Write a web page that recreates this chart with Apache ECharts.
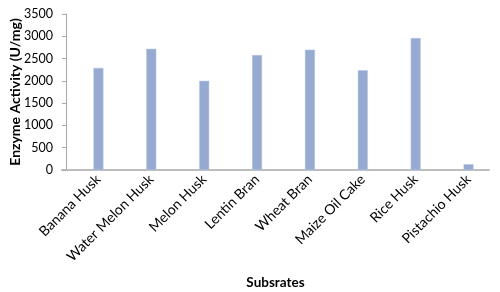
<!DOCTYPE html>
<html>
<head>
<meta charset="utf-8">
<script src="https://cdn.jsdelivr.net/npm/echarts@6/dist/echarts.min.js"></script>
<style>html,body{margin:0;padding:0;background:#fff}#c{width:500px;height:292px}</style>
</head>
<body>
<div id="c"></div>
<script>
const categories = ['Banana Husk','Water Melon Husk','Melon Husk','Lentin Bran','Wheat Bran','Maize Oil Cake','Rice Husk','Pistachio Husk'];
const activity = [2290, 2720, 2000, 2580, 2700, 2240, 2960, 130];
const yTicks = [0, 500, 1000, 1500, 2000, 2500, 3000, 3500];
const yTitle = 'Enzyme Activity (U/mg)';
const xTitle = 'Subsrates';

const font = 'Lato, "Open Sans", sans-serif';
const chart = echarts.init(document.getElementById('c'), null, {renderer: 'canvas'});
chart.setOption({
  animation: false,
  backgroundColor: '#ffffff',
  grid: [
    {left: 72, right: 5, top: 14, bottom: 122, containLabel: false, outerBoundsMode: 'none'},
    {left: 62, right: 11, top: 14, bottom: 122, containLabel: false, outerBoundsMode: 'none'}
  ],
  xAxis: [
    {
      type: 'category', gridIndex: 0, data: categories,
      axisLine: {show: false}, axisTick: {show: false},
      axisLabel: {rotate: 45, margin: 7, fontSize: 14, fontFamily: font, color: '#000', interval: 0}
    },
    {
      type: 'category', gridIndex: 1, data: categories,
      axisLine: {show: true, lineStyle: {color: '#bdbdbd', width: 2}},
      axisTick: {show: false}, axisLabel: {show: false},
      name: xTitle, nameLocation: 'middle', nameGap: 106, nameMoveOverlap: false,
      nameTextStyle: {fontSize: 13.5, fontWeight: 'bold', fontFamily: font, color: '#000'}
    }
  ],
  yAxis: [
    {
      type: 'value', gridIndex: 0, min: yTicks[0], max: yTicks[yTicks.length - 1], interval: 500,
      offset: 6,
      axisLine: {show: true, lineStyle: {color: '#a6a6a6', width: 1}},
      axisTick: {show: true, length: 4, lineStyle: {color: '#a6a6a6'}},
      splitLine: {show: false},
      axisLabel: {margin: 13, fontSize: 12.5, fontFamily: font, color: '#000', formatter: v => String(v)},
      name: yTitle, nameLocation: 'middle', nameGap: 44, nameMoveOverlap: false,
      nameTextStyle: {fontSize: 14, fontWeight: 'bold', fontFamily: font, color: '#000'}
    },
    {
      type: 'value', gridIndex: 1, min: 0, max: 3500, show: false
    }
  ],
  series: [{
    type: 'bar', xAxisIndex: 0, yAxisIndex: 0, data: activity,
    barWidth: 10,
    itemStyle: {color: '#95a9d1', borderColor: '#b9c8e4', borderWidth: 0.5}
  }]
});
</script>
</body>
</html>
